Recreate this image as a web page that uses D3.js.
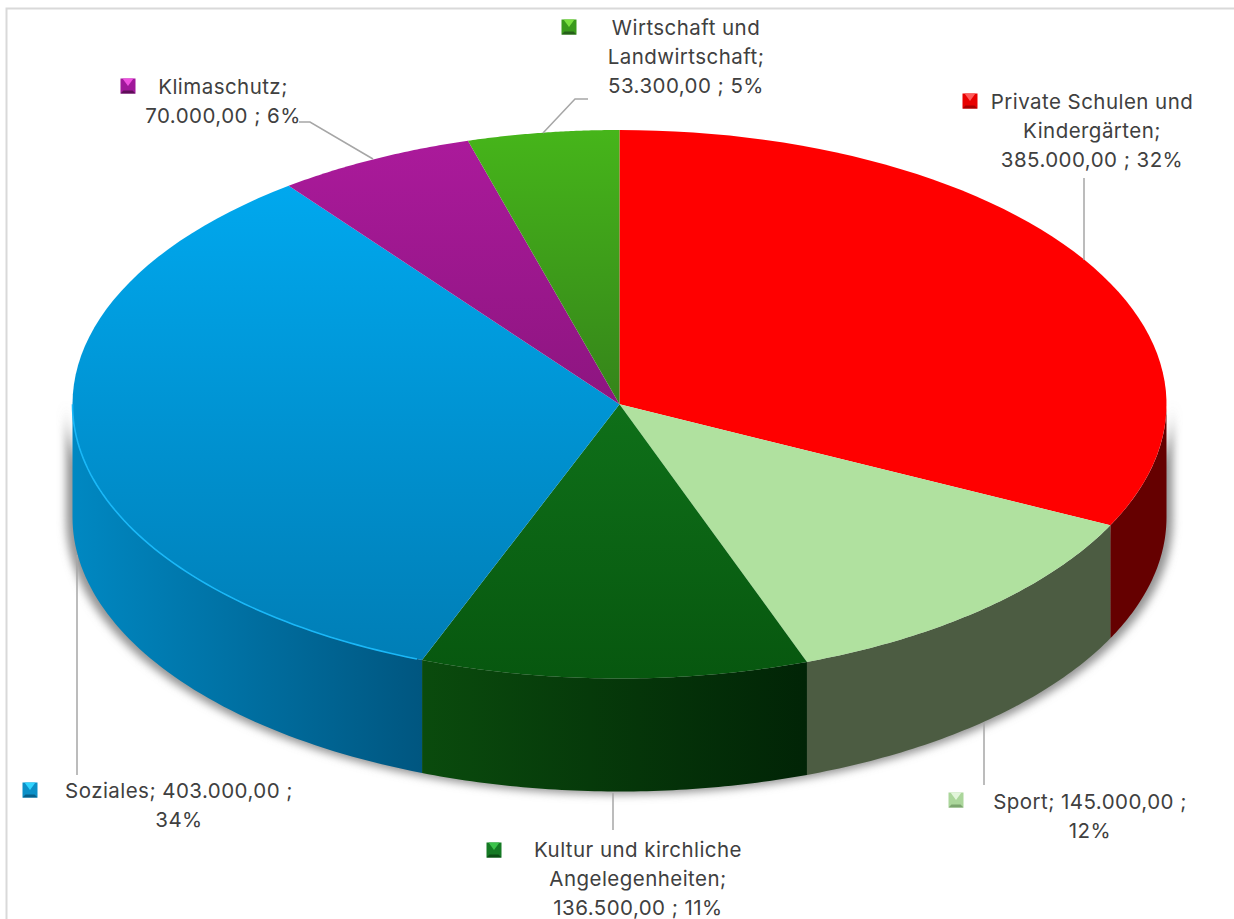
<!DOCTYPE html>
<html lang="de">
<head>
<meta charset="UTF-8">
<title>Kreisdiagramm</title>
<script src="https://cdn.jsdelivr.net/npm/d3@7"></script>
<style>
  html, body { margin: 0; background: #fff; }
  text { font-family: "Inter", sans-serif; font-size: 20.5px; letter-spacing: 0.45px; fill: #404040; text-anchor: middle; }
</style>
</head>
<body>
<script>
const categories = ["Private Schulen und Kindergärten", "Sport", "Kultur und kirchliche Angelegenheiten", "Soziales", "Klimaschutz", "Wirtschaft und Landwirtschaft"];
const values = [385000, 145000, 136500, 403000, 70000, 53300];
const shares = ["32%", "12%", "11%", "34%", "6%", "5%"];
const topColors = [["#ff0000", "#ff0000"], ["#b0e19f", "#b0e19f"], ["#0f7019", "#07570f"], ["#00a8ee", "#007eb6"], ["#ac1a9c", "#8d1580"], ["#46b51a", "#35841a"]];
// left to right across the front of the pie
const wallColors = [["#650000", "#650000"], ["#4c5c42", "#4c5c42"], ["#0a4b0d", "#012406"], ["#0088c2", "#005680"], null, null];
const keyColors = [["#ff5a5a", "#e80000", "#a80000"], ["#e2f5da", "#abd69b", "#7ca56f"], ["#3bc24a", "#157a24", "#0b4d14"], ["#2fd4ff", "#0a90c8", "#05608c"], ["#f050e0", "#a0189a", "#5e0f58"], ["#7ae040", "#3a9a1c", "#26601a"]];
const labelLines = [
  ["Private Schulen und", "Kindergärten;", "385.000,00 ; 32%"],
  ["Sport; 145.000,00 ;", "12%"],
  ["Kultur und kirchliche", "Angelegenheiten;", "136.500,00 ; 11%"],
  ["Soziales; 403.000,00 ;", "34%"],
  ["Klimaschutz;", "70.000,00 ; 6%"],
  ["Wirtschaft und", "Landwirtschaft;", "53.300,00 ; 5%"]
];
const labelPos = [[1092, 108.5], [1090, 809], [638, 857], [179, 797.5], [223, 93.5], [686, 34.5]];
const keyPos = [[970, 101], [956, 800], [494, 850], [30, 790], [128, 86], [569, 27]];
const leaders = [
  [[1084, 178], [1084, 260]],
  [[984, 722], [984, 785]],
  [[613, 793], [613, 830]],
  [[77, 555], [77, 775]],
  [[299, 122], [310, 122], [373, 159]],
  [[543, 133], [575, 99], [588, 99]]
];

const width = 1234, height = 919;
const depth = 113;
const x = d3.scaleLinear().domain([-1, 1]).range([72.5, 1166.5]);
const y = d3.scaleLinear().domain([-1, 1]).range([130, 678.5]);
const shadowX = d3.scaleLinear().domain([-1, 1]).range([66, 1173]);
const rim = (a, dy = 0) => [x(Math.sin(a)), y(-Math.cos(a)) + dy];
const samples = (a0, a1) => d3.range(0, 61).map(i => a0 + (a1 - a0) * i / 60);
const line = d3.line();

const svg = d3.select("body").append("svg").attr("width", width).attr("height", height).style("display", "block");
const defs = svg.append("defs");

defs.append("filter").attr("id", "blur").attr("x", "-5%").attr("y", "-5%").attr("width", "110%").attr("height", "110%")
  .append("feGaussianBlur").attr("stdDeviation", 4);

// frame, only top and left show
svg.append("path").attr("d", "M6.5,919V8.5H1234").attr("fill", "none").attr("stroke", "#d9d9d9").attr("stroke-width", 2);

const arcs = d3.pie().sort(null).value(d => d)(values);

// gradients, top faces share the vertical span of the ellipse
arcs.forEach((d, i) => {
  const t = defs.append("linearGradient").attr("id", "top" + i).attr("gradientUnits", "userSpaceOnUse")
    .attr("x1", 0).attr("x2", 0).attr("y1", i === 2 ? 404 : (i === 3 ? 186 : 130)).attr("y2", i === 2 ? 679 : (i === 3 ? 660 : 404));
  t.append("stop").attr("offset", 0).attr("stop-color", topColors[i][0]);
  t.append("stop").attr("offset", 1).attr("stop-color", topColors[i][1]);
  if (!wallColors[i]) return;
  const xs = [rim(Math.max(d.startAngle, Math.PI / 2))[0], rim(Math.min(d.endAngle, 3 * Math.PI / 2))[0]];
  const w = defs.append("linearGradient").attr("id", "wall" + i).attr("gradientUnits", "userSpaceOnUse")
    .attr("x1", d3.min(xs)).attr("x2", d3.max(xs)).attr("y1", 0).attr("y2", 0);
  w.append("stop").attr("offset", 0).attr("stop-color", wallColors[i][0]);
  w.append("stop").attr("offset", 1).attr("stop-color", wallColors[i][1]);
});

// soft shadow round the lower edge
const shadowAngles = samples(Math.PI / 2, 3 * Math.PI / 2);
svg.append("path")
  .attr("d", line(shadowAngles.map(a => [shadowX(Math.sin(a)), y(-Math.cos(a))])
    .concat(shadowAngles.slice().reverse().map(a => [shadowX(Math.sin(a)), y(-Math.cos(a)) + depth + 3]))) + "Z")
  .attr("fill", "#949494").attr("filter", "url(#blur)");

// walls
arcs.forEach((d, i) => {
  if (!wallColors[i]) return;
  const a0 = Math.max(d.startAngle, Math.PI / 2), a1 = Math.min(d.endAngle, 3 * Math.PI / 2);
  const upper = samples(a0, a1).map(a => rim(a));
  const lower = samples(a1, a0).map(a => rim(a, depth));
  svg.append("path").attr("d", line(upper.concat(lower)) + "Z").attr("fill", `url(#wall${i})`);
});

// top faces
arcs.forEach((d, i) => {
  const pts = [[x(0), y(0)]].concat(samples(d.startAngle, d.endAngle).map(a => rim(a)));
  svg.append("path").attr("d", line(pts) + "Z").attr("fill", `url(#top${i})`);
});

// bright bevel along the front of the blue face
const blue = arcs[3];
svg.append("path")
  .attr("d", line(samples(blue.startAngle + 0.01, 3 * Math.PI / 2).map(a => rim(a))))
  .attr("fill", "none").attr("stroke", "#1ab8f8").attr("stroke-width", 1.6);

// leader lines
svg.append("g").selectAll("path").data(leaders).join("path")
  .attr("d", d => line(d)).attr("fill", "none").attr("stroke", "#a6a6a6").attr("stroke-width", 1.5);

// data labels
labelLines.forEach((lines, i) => {
  const t = svg.append("text").attr("x", labelPos[i][0]).attr("y", labelPos[i][1]);
  lines.forEach((s, j) => t.append("tspan").attr("x", labelPos[i][0]).attr("dy", j ? 29 : 0).text(s));
});

// legend keys with a bevel
keyPos.forEach(([kx, ky], i) => {
  const s = 7.5, b = 3;
  const g = svg.append("g").attr("transform", `translate(${kx},${ky})`);
  g.append("rect").attr("x", -s).attr("y", -s).attr("width", 2 * s).attr("height", 2 * s).attr("fill", keyColors[i][1]);
  g.append("path").attr("d", `M${-s + 2},${-s}H${s - 2}L0,${b - 3}Z`).attr("fill", keyColors[i][0]);
  g.append("path").attr("d", `M${-s},${s}H${s}L${s - b},${s - b}H${-s + b}Z`).attr("fill", keyColors[i][2]);
});
</script>
</body>
</html>
